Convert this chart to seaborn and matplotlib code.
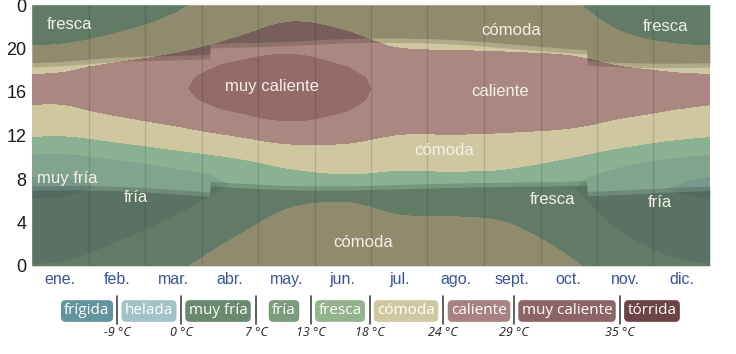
import numpy as np
import matplotlib
matplotlib.use("Agg")
import matplotlib.pyplot as plt
from matplotlib.lines import Line2D
import seaborn as sns

# ---------------- data ----------------
months = ["ene.", "feb.", "mar.", "abr.", "may.", "jun.",
          "jul.", "ago.", "sept.", "oct.", "nov.", "dic."]
# monthly daily minimum / maximum temperature (°C)
t_min = [6.0, 7.8, 10.3, 13.0, 16.0, 17.0, 16.5, 16.5, 16.0, 13.3, 9.2, 6.5]
t_max = [25.0, 26.6, 28.3, 31.0, 32.4, 30.4, 27.8, 27.5, 27.3, 27.5, 26.1, 25.2]
# clock hour of the daily maximum
peak_hour = [16.3, 16.3, 16.3, 16.5, 16.5, 16.3, 16.2, 16.1, 16.1, 16.1, 16.0, 16.1]
# sunrise / sunset (standard time, hours) at mid-month
sunrise_std = [7.40, 7.33, 7.05, 6.67, 6.42, 6.38, 6.50, 6.63, 6.72, 6.80, 7.00, 7.25]
sunset_std = [18.40, 18.80, 18.95, 19.10, 19.25, 19.50, 19.55, 19.40, 19.00, 18.60, 18.30, 18.25]
# daylight-saving period (day of year)
dst_start, dst_end = 96, 299
# diurnal profile: fraction of the daily range, hours 0..24 after the daily minimum
diurnal = [0.0, 0.05, 0.19, 0.36, 0.53, 0.68, 0.81, 0.91, 0.975, 1.0, 0.98, 0.91,
           0.79, 0.64, 0.55, 0.48, 0.42, 0.37, 0.32, 0.27, 0.215, 0.16, 0.105, 0.05, 0.0]
# temperature bands
band_edges = [-9, 0, 7, 13, 18, 24, 29, 35]
band_names = ["frígida", "helada", "muy fría", "fría", "fresca", "cómoda",
              "caliente", "muy caliente", "tórrida"]
band_colors = ["#6394a0", "#a2c3c7", "#77988a", "#82a48e", "#8bb193", "#cfc7a0",
               "#aa8781", "#946a6b", "#6e4547"]
legend_colors = ["#6394a0", "#a2c3c7", "#688a6e", "#7a9c7c", "#93b38c", "#cfc8a0",
                 "#a88280", "#8e6567", "#6c4446"]
# region labels: (text, day of year, hour)
region_labels = [("fresca", 20, 22.2), ("muy caliente", 129, 16.5), ("caliente", 252, 16.0),
                 ("cómoda", 258, 21.7), ("fresca", 341, 22.0), ("cómoda", 222, 10.6),
                 ("muy fría", 19, 8.0), ("fría", 56, 6.3), ("fresca", 280, 6.1),
                 ("fría", 338, 5.8), ("cómoda", 178, 2.2)]

# ---------------- helpers ----------------
def periodic_curve(vals, days):
    v = np.asarray(vals, dtype=float)
    n = len(v)
    u = days / (365.0 / n) - 0.5
    i = np.floor(u).astype(int)
    t = u - i
    p0, p1, p2, p3 = v[(i - 1) % n], v[i % n], v[(i + 1) % n], v[(i + 2) % n]
    return 0.5 * ((2 * p1) + (-p0 + p2) * t + (2 * p0 - 5 * p1 + 4 * p2 - p3) * t ** 2
                  + (-p0 + 3 * p1 - 3 * p2 + p3) * t ** 3)

days = np.arange(0, 365.01, 0.5)
hours = np.arange(0, 24.001, 0.05)
dst = ((days >= dst_start) & (days < dst_end)).astype(float)
sunrise = periodic_curve(sunrise_std, days) + dst
sunset = periodic_curve(sunset_std, days) + dst
lo = periodic_curve(t_min, days)
hi = periodic_curve(t_max, days)
peak = periodic_curve(peak_hour, days)

D, H = np.meshgrid(days, hours)
dt = (H - peak[None, :] + 9.0) % 24.0
frac = np.interp(dt, np.arange(25), diurnal)
T = lo[None, :] + (hi - lo)[None, :] * frac

# ---------------- figure ----------------
sns.set_style("white")
plt.rcParams["font.family"] = ["Liberation Sans", "DejaVu Sans"]
fig = plt.figure(figsize=(7.36, 3.54), dpi=100)
ax = fig.add_axes([32 / 736, 1 - 266 / 354, 678 / 736, 261 / 354])

levels = [-60] + band_edges + [60]
ax.contourf(D, H, T, levels=levels, colors=band_colors, antialiased=False)

# night and twilight overlays
tw = 0.4
ax.fill_between(days, 0, sunrise - tw, color="black", alpha=0.30, lw=0)
ax.fill_between(days, sunrise - tw, sunrise, color="black", alpha=0.15, lw=0)
ax.fill_between(days, sunset, sunset + tw, color="black", alpha=0.15, lw=0)
ax.fill_between(days, sunset + tw, 24, color="black", alpha=0.30, lw=0)

# month grid lines
bounds = np.arange(1, 12) * 365 / 12
for b in bounds:
    ax.axvline(b, color="black", alpha=0.12, lw=1)

for txt, dx, hy in region_labels:
    ax.text(dx, hy, txt, color="#f3f0e6", fontsize=12, ha="center", va="center")

ax.set_xlim(0, 365)
ax.set_ylim(0, 24)
ax.set_xticks((np.arange(12) + 0.5) * 365 / 12)
ax.set_xticklabels(months, color="#37559a", fontsize=11.5)
ax.set_yticks(np.arange(0, 25, 4))
ax.set_yticklabels(["0", "4", "8", "12", "16", "20", "0"], fontsize=13, color="#1a1a1a")
ax.tick_params(length=0, pad=4)
for s in ax.spines.values():
    s.set_visible(False)

# ---------------- legend ----------------
chip_x = [87, 149, 218, 284, 340, 406, 479, 567, 652]
sep_x = [117, 181, 256, 311, 370, 443, 514, 620]
chip_y = 1 - 311 / 354
for name, col, cx in zip(band_names, legend_colors, chip_x):
    fig.text(cx / 736, chip_y, name, ha="center", va="center", fontsize=11,
             color="white", family=["Open Sans", "DejaVu Sans"],
             bbox=dict(boxstyle="round,pad=0.22,rounding_size=0.3", fc=col, ec="none"))
for sx, edge in zip(sep_x, band_edges):
    fig.add_artist(Line2D([sx / 736, sx / 736], [1 - 296 / 354, 1 - 324 / 354],
                          color="#444444", lw=1.2, transform=fig.transFigure))
    fig.text(sx / 736, 1 - 332 / 354, f"{edge} °C", ha="center", va="center",
             fontsize=9, style="italic", color="#222222",
             family=["Open Sans", "DejaVu Sans"])

fig.savefig("out.png", dpi=100)
